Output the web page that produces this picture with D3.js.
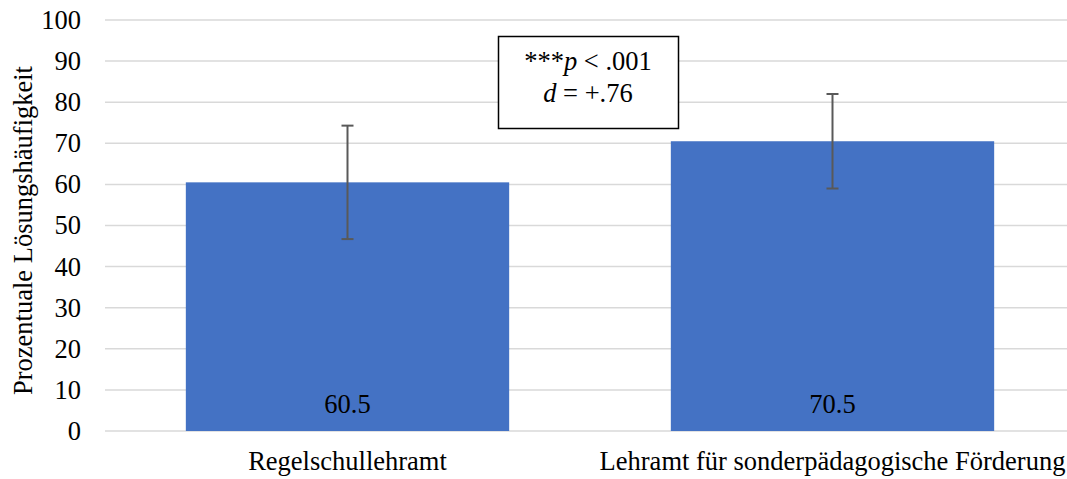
<!DOCTYPE html>
<html>
<head>
<meta charset="utf-8">
<script src="https://cdn.jsdelivr.net/npm/d3@7"></script>
<style>
  body { margin: 0; background: #fff; }
  svg text { font-family: "Liberation Serif", "Times New Roman", serif; fill: #000; }
</style>
</head>
<body>
<div id="chart"></div>
<script>
const categories = ["Regelschullehramt", "Lehramt für sonderpädagogische Förderung"];
const means = [60.5, 70.5];
const errUpper = [74.3, 82.0];
const errLower = [46.7, 59.0];
const yTicks = [0, 10, 20, 30, 40, 50, 60, 70, 80, 90, 100];
const yTitle = "Prozentuale Lösungshäufigkeit";

const width = 1067, height = 479;
const margin = { top: 20, right: -8, bottom: 48, left: 105 };
const plotW = width - margin.left - margin.right;
const plotH = height - margin.top - margin.bottom;
const serif = '"Liberation Serif", "Times New Roman", serif';
const fs = "26.5px";

const svg = d3.select("#chart").append("svg")
  .attr("width", width)
  .attr("height", height)
  .attr("font-family", serif);

const g = svg.append("g")
  .attr("transform", `translate(${margin.left},${margin.top})`);

const x = d3.scaleBand()
  .domain(categories)
  .range([0, plotW])
  .paddingInner(1 / 3)
  .paddingOuter(1 / 6);

const y = d3.scaleLinear()
  .domain([0, 100])
  .range([plotH, 0]);

// gridlines
g.selectAll(".grid")
  .data(yTicks)
  .enter().append("line")
  .attr("x1", 0)
  .attr("x2", plotW)
  .attr("y1", d => y(d))
  .attr("y2", d => y(d))
  .attr("stroke", "#d9d9d9")
  .attr("stroke-width", 1.5);

// y axis labels
const yAxis = g.append("g")
  .call(d3.axisLeft(y).tickValues(yTicks).tickSize(0).tickPadding(24))
  .attr("font-family", serif)
  .attr("font-size", 26.5);
yAxis.select(".domain").remove();
yAxis.selectAll("text")
  .attr("font-family", serif)
  .style("font-size", fs)
  .attr("fill", "#000");

// bars
g.selectAll(".bar")
  .data(means)
  .enter().append("rect")
  .attr("x", (d, i) => x(categories[i]))
  .attr("y", d => y(d))
  .attr("width", x.bandwidth())
  .attr("height", d => y(0) - y(d))
  .attr("fill", "#4472C4");

// error bars
const cap = 6;
means.forEach((m, i) => {
  const cx = x(categories[i]) + x.bandwidth() / 2;
  const eg = g.append("g")
    .attr("stroke", "#595959")
    .attr("stroke-width", 2);
  eg.append("line")
    .attr("x1", cx).attr("x2", cx)
    .attr("y1", y(errUpper[i])).attr("y2", y(errLower[i]));
  [errUpper[i], errLower[i]].forEach(v => {
    eg.append("line")
      .attr("x1", cx - cap).attr("x2", cx + cap)
      .attr("y1", y(v)).attr("y2", y(v));
  });
});

// value labels inside bars
g.selectAll(".val")
  .data(means)
  .enter().append("text")
  .attr("x", (d, i) => x(categories[i]) + x.bandwidth() / 2)
  .attr("y", y(0) - 18)
  .attr("text-anchor", "middle")
  .attr("font-family", serif)
  .style("font-size", fs)
  .text(d => d.toFixed(1));

// category labels
g.selectAll(".cat")
  .data(categories)
  .enter().append("text")
  .attr("x", d => x(d) + x.bandwidth() / 2)
  .attr("y", plotH + 39)
  .attr("text-anchor", "middle")
  .attr("font-family", serif)
  .style("font-size", fs)
  .text(d => d);

// y title
svg.append("text")
  .attr("transform", `translate(32,${margin.top + plotH / 2 + 5}) rotate(-90)`)
  .attr("text-anchor", "middle")
  .attr("font-family", serif)
  .style("font-size", fs)
  .text(yTitle);

// significance box
const box = svg.append("g");
box.append("rect")
  .attr("x", 498.5)
  .attr("y", 36.5)
  .attr("width", 180)
  .attr("height", 92)
  .attr("fill", "#fff")
  .attr("stroke", "#000")
  .attr("stroke-width", 1.5);

const t1 = box.append("text")
  .attr("x", 588)
  .attr("y", 70)
  .attr("text-anchor", "middle")
  .attr("font-family", serif)
  .style("font-size", fs);
t1.append("tspan").text("***");
t1.append("tspan").style("font-style", "italic").text("p");
t1.append("tspan").text(" < .001");

const t2 = box.append("text")
  .attr("x", 588)
  .attr("y", 102)
  .attr("text-anchor", "middle")
  .attr("font-family", serif)
  .style("font-size", fs);
t2.append("tspan").style("font-style", "italic").text("d");
t2.append("tspan").text(" = +.76");
</script>
</body>
</html>
